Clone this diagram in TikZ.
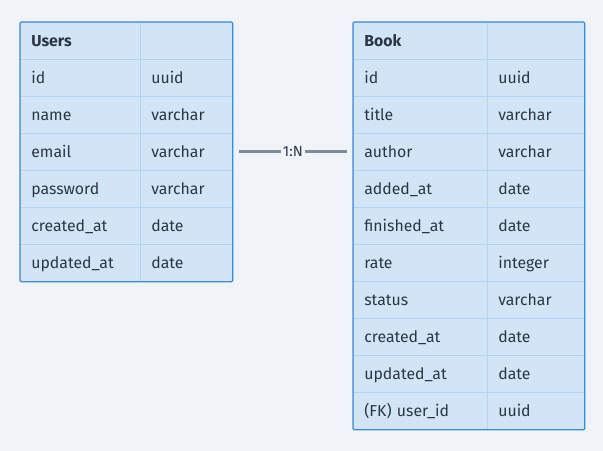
\documentclass[tikz,border=0pt]{standalone}
\usepackage{fontspec}
\setmainfont{Fira Sans}
\definecolor{bgcol}{HTML}{F0F4F8}
\definecolor{cellcol}{HTML}{D2E5F7}
\definecolor{gridcol}{HTML}{B3D3F3}
\definecolor{edgecol}{HTML}{3A8BD8}
\definecolor{inkcol}{HTML}{2B3645}
\definecolor{relcol}{HTML}{7D8A97}
\tikzset{
  cell/.style={draw=gridcol, fill=cellcol, line width=0.6pt, inner xsep=0.33cm, inner ysep=0pt,
    minimum height=1.11cm, text height=11pt, text depth=1.5pt, anchor=north west, align=left,
    text=inkcol, font=\fontsize{13.5}{15}\selectfont},
  ucola/.style={cell, text width=2.94cm},
  ucolb/.style={cell, text width=2.10cm},
  bcola/.style={cell, text width=3.36cm},
  bcolb/.style={cell, text width=2.25cm},
  head/.style={font=\fontsize{13.5}{15}\selectfont\bfseries},
  tableedge/.style={draw=edgecol, line width=1.1pt, rounded corners=1pt},
  rel/.style={draw=relcol, line width=2.6pt, shorten <=0.18cm, shorten >=0.18cm}
}
\begin{document}
\begin{tikzpicture}[x=0.03cm, y=-0.03cm]
\useasboundingbox[fill=bgcol] (0,0) rectangle (603,451);

% Users table
\node[ucola, head] (u0n) at (20,22) {Users};
\node[ucolb] (u0t) at (140,22) {};
\foreach \fname/\ftype [count=\i] in {id/uuid, name/varchar, email/varchar, password/varchar,
    created\_at/date, updated\_at/date} {
  \node[ucola] (u\i n) at (20,22+37*\i) {\fname};
  \node[ucolb] (u\i t) at (140,22+37*\i) {\ftype};
}
\draw[tableedge] (u0n.north west) rectangle (u6t.south east);

% Book table
\node[bcola, head] (b0n) at (353,22) {Book};
\node[bcolb] (b0t) at (487,22) {};
\foreach \fname/\ftype [count=\i] in {id/uuid, title/varchar, author/varchar, added\_at/date,
    finished\_at/date, rate/integer, status/varchar, created\_at/date, updated\_at/date,
    (FK) user\_id/uuid} {
  \node[bcola] (b\i n) at (353,22+37*\i) {\fname};
  \node[bcolb] (b\i t) at (487,22+37*\i) {\ftype};
}
\draw[tableedge] (b0n.north west) rectangle (b10t.south east);

% relation
\draw[rel] (u3t.east) -- node[fill=bgcol, inner xsep=2pt, inner ysep=1pt, text=inkcol,
  font=\fontsize{12.5}{14}\selectfont] (card) {1:N} (b3n.west);
\end{tikzpicture}
\end{document}
